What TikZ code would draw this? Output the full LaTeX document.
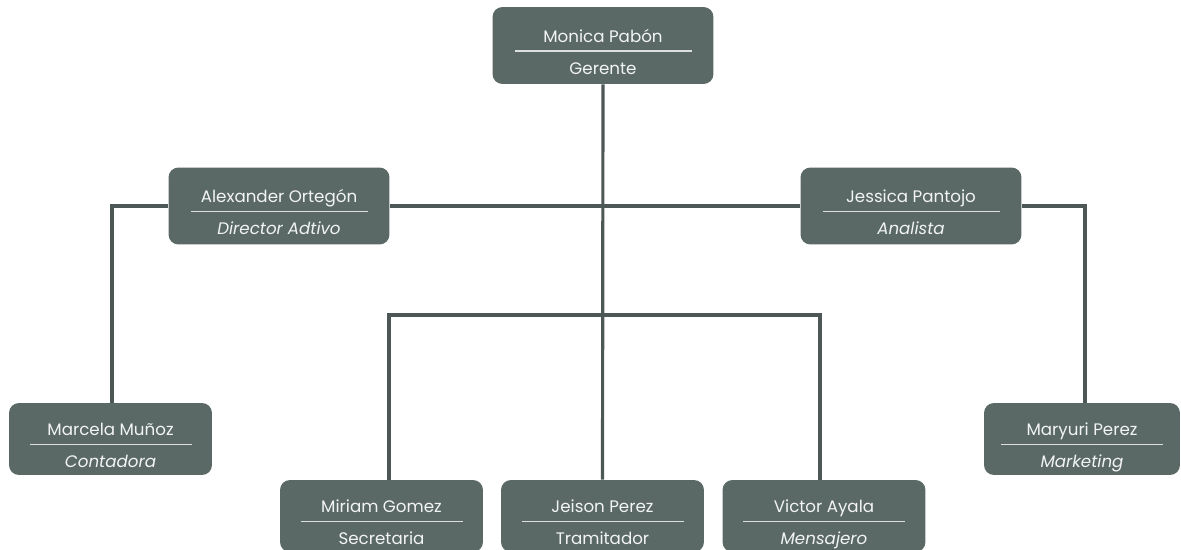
\documentclass[tikz,border=0pt]{standalone}
\usepackage{fontspec}
\setmainfont{Poppins}
\usetikzlibrary{calc,positioning}
\definecolor{caja}{HTML}{5A6966}
\definecolor{linea}{HTML}{4D5856}
\definecolor{texto}{HTML}{F2F4F3}
\tikzset{
  caja/.style={fill=caja, rounded corners=0.2cm, minimum width=4.42cm, minimum height=1.54cm, inner sep=0pt},
  chica/.style={minimum width=4.06cm, minimum height=1.44cm},
  nombre/.style={text=texto, anchor=base, inner sep=0pt, font=\fontsize{9.5}{11}\selectfont},
  divisor/.style={draw=texto!85!caja, line width=0.8pt},
  conector/.style={draw=linea, line width=1.8pt}
}
\begin{document}
\begin{tikzpicture}[x=0.02cm, y=-0.02cm]
\useasboundingbox (0,0) rectangle (1181,550);

% cajas
\node[caja] (monica) at (603,45.5) {};
\node[caja] (alexander) at (279,206) {};
\node[caja] (jessica) at (911,206) {};
\node[caja, chica] (marcela) at (110.5,439) {};
\node[caja, chica, minimum width=3.92cm] (maryuri) at (1082,439) {};
\node[caja, chica] (miriam) at (381.5,516) {};
\node[caja, chica] (jeison) at (602.5,516) {};
\node[caja, chica] (victor) at (824,516) {};

% conectores
\draw[conector] (monica.south) -- (jeison.north);
\draw[conector] (alexander.east) -- (jessica.west);
\draw[conector] (alexander.west) -| ([xshift=0.03cm]marcela.north);
\draw[conector] (jessica.east) -| ([xshift=0.06cm]maryuri.north);
\coordinate (ramal) at (603,315);
\draw[conector] ([xshift=0.15cm]miriam.north) -- ([xshift=0.15cm]miriam.north |- ramal)
  -- ([xshift=-0.08cm]victor.north |- ramal) -- ([xshift=-0.08cm]victor.north);

% textos
\foreach \p/\n/\c/\w in {monica/Monica Pabón/Gerente/88.5,
    alexander/Alexander Ortegón/\textit{Director Adtivo}/88.5,
    jessica/Jessica Pantojo/\textit{Analista}/88.5,
    marcela/Marcela Muñoz/\textit{Contadora}/81,
    maryuri/Maryuri Perez/\textit{Marketing}/81,
    miriam/Miriam Gomez/Secretaria/81,
    jeison/Jeison Perez/Tramitador/81,
    victor/Victor Ayala/\textit{Mensajero}/81}{
  \node[nombre] (\p-n) at ($(\p.center)+(0,-3)$) {\n};
  \draw[divisor] ($(\p.center)+(-\w,5.5)$) -- ($(\p.center)+(\w,5.5)$);
  \node[nombre] (\p-c) at ($(\p.center)+(0,29)$) {\c};
}
\end{tikzpicture}
\end{document}
